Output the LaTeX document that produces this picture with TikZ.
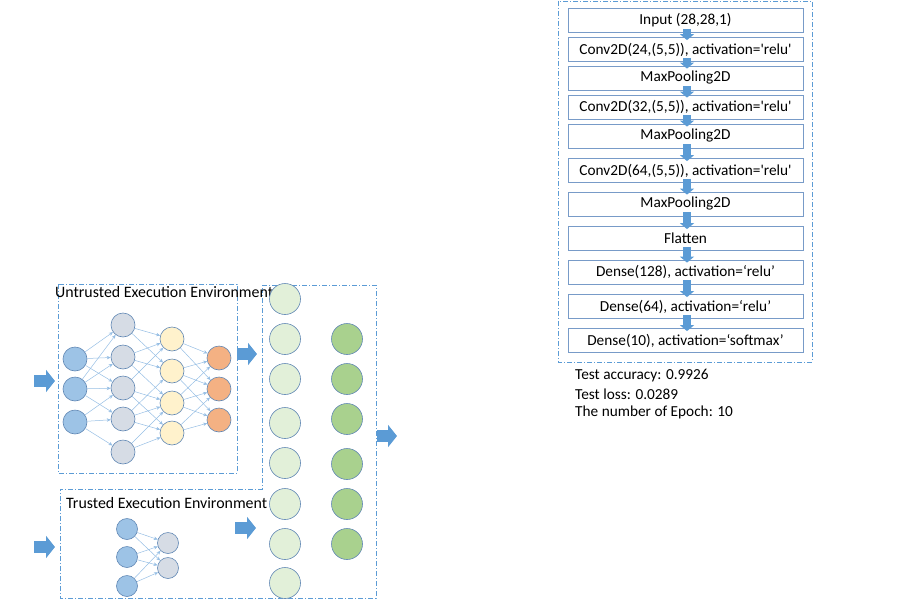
\documentclass[tikz,border=0pt]{standalone}
\usepackage{fontspec}
\setmainfont{Carlito}
\usepackage{tikz}
\usetikzlibrary{arrows.meta}

\definecolor{lineblue}{RGB}{91,155,213}
\definecolor{boxblue}{RGB}{120,155,200}
\definecolor{ringblue}{RGB}{96,135,180}
\definecolor{linkblue}{RGB}{150,190,228}
\definecolor{inblue}{RGB}{157,195,230}
\definecolor{hidgrey}{RGB}{214,220,229}
\definecolor{hidyellow}{RGB}{255,242,204}
\definecolor{outorange}{RGB}{244,177,131}
\definecolor{lightgreen}{RGB}{226,240,217}
\definecolor{midgreen}{RGB}{169,209,142}

\tikzset{
  neuron/.style={circle, draw=ringblue, line width=0.6pt, minimum size=24pt, inner sep=0pt},
  bigneuron/.style={neuron, minimum size=31pt},
  smallneuron/.style={neuron, minimum size=21pt},
  link/.style={draw=linkblue, line width=0.5pt, -{Stealth[length=4pt,width=3.5pt]}},
  envframe/.style={draw=lineblue, line width=0.8pt, dash pattern=on 5pt off 2pt on 1pt off 2pt},
  layerbox/.style={draw=boxblue, line width=0.8pt, fill=white, minimum width=235pt, minimum height=24pt, inner sep=0pt},
  flowarrow/.style={draw=lineblue, line width=12pt, -{Triangle[length=9pt,width=22pt]}},
  stepflow/.style={draw=lineblue, line width=8pt, -{Triangle[length=6pt,width=14pt]}},
  caption/.style={anchor=west, inner sep=0pt},
  envtitle/.style={caption, font=\fontsize{15.9}{18}\selectfont}
}

\begin{document}
\begin{tikzpicture}[x=1pt, y=-1pt, font=\fontsize{15.3}{18}\selectfont]
\useasboundingbox (0,0) rectangle (901,602);

% Frames of the two environments
\draw[envframe] (58,284) rectangle (237,473);
\draw[envframe] (262,285) -- (376,285) -- (376,598) -- (60,598) -- (60,489) -- (262,489) -- cycle;
\node[envtitle] (utitle) at (55,292) {Untrusted Execution Environment};
\node[envtitle] (ttitle) at (66,503) {Trusted Execution Environment};

% Untrusted network
\foreach \y [count=\i] in {359,389,422} \node[neuron, fill=inblue] (ua\i) at (75,\y) {};
\foreach \y [count=\i] in {325,357,388,419,452} \node[neuron, fill=hidgrey] (ub\i) at (123,\y) {};
\foreach \y [count=\i] in {339,371,403,433} \node[neuron, fill=hidyellow] (uc\i) at (172,\y) {};
\foreach \y [count=\i] in {358,389,420} \node[neuron, fill=outorange] (ud\i) at (219,\y) {};
\foreach \s/\t in {1/1,1/2,1/3,2/1,2/2,2/3,2/4,3/3,3/4,3/5} \draw[link] (ua\s) -- (ub\t);
\foreach \s/\t in {1/1,1/2,2/1,2/2,2/3,3/1,3/3,3/4,4/2,4/3,4/4,5/3,5/4} \draw[link] (ub\s) -- (uc\t);
\foreach \s/\t in {1/1,1/2,2/1,2/2,2/3,3/1,3/2,3/3,4/2,4/3} \draw[link] (uc\s) -- (ud\t);

% Trusted network
\foreach \y [count=\i] in {529,557,586} \node[smallneuron, fill=inblue] (ta\i) at (127,\y) {};
\foreach \y [count=\i] in {543,568} \node[smallneuron, fill=hidgrey] (tb\i) at (168,\y) {};
\foreach \i in {1,...,3} \foreach \j in {1,2} \draw[link] (ta\i) -- (tb\j);

% Merged layers
\foreach \y [count=\i] in {299,339,379,423,463,504,544,583} \node[bigneuron, fill=lightgreen] (ma\i) at (285,\y) {};
\foreach \y [count=\i] in {339,379,419,464,504,544} \node[bigneuron, fill=midgreen] (mb\i) at (347,\y) {};

% Block arrows
\coordinate (uin) at (34,381);   \coordinate (uinend) at (55,381);
\coordinate (uout) at (237,354); \coordinate (uoutend) at (257,354);
\coordinate (tin) at (34,547);   \coordinate (tinend) at (55,547);
\coordinate (tout) at (235,528); \coordinate (toutend) at (256,528);
\coordinate (mout) at (377,436); \coordinate (moutend) at (397,436);
\draw[flowarrow] (uin) -- (uinend);
\draw[flowarrow] (uout) -- (uoutend);
\draw[flowarrow] (tin) -- (tinend);
\draw[flowarrow] (tout) -- (toutend);
\draw[flowarrow] (mout) -- (moutend);

% Model summary
\draw[envframe] (558,1) rectangle (812,362);
\node[layerbox] (l1) at (685.5,20.5) {Input (28,28,1)};
\node[layerbox] (l2) at (685.5,49.5) {Conv2D(24,(5,5)), activation=\textquotesingle relu\textquotesingle};
\node[layerbox] (l3) at (685.5,78) {MaxPooling2D};
\node[layerbox] (l4) at (685.5,107) {Conv2D(32,(5,5)), activation=\textquotesingle relu\textquotesingle};
\node[layerbox] (l5) at (685.5,136) {MaxPooling2D};
\node[layerbox] (l6) at (685.5,170.5) {Conv2D(64,(5,5)), activation=\textquotesingle relu\textquotesingle};
\node[layerbox] (l7) at (685.5,204) {MaxPooling2D};
\node[layerbox] (l8) at (685.5,238.5) {Flatten};
\node[layerbox] (l9) at (685.5,272) {Dense(128), activation=‘relu’};
\node[layerbox] (l10) at (685.5,306.5) {Dense(64), activation=‘relu’};
\node[layerbox] (l11) at (685.5,340.5) {Dense(10), activation=‘softmax’};
\foreach \a [count=\b from 2] in {1,...,10}
  \draw[stepflow] ([xshift=1.5pt, yshift=4pt]l\a.south) -- ([xshift=1.5pt, yshift=-3pt]l\b.north);

% Scores
\node[caption] (acc) at (575,376) {Test accuracy: 0.9926};
\node[caption] (loss) at (575,394) {Test loss: 0.0289};
\node[caption] (epoch) at (575,412) {The number of Epoch: 10};
\end{tikzpicture}
\end{document}
